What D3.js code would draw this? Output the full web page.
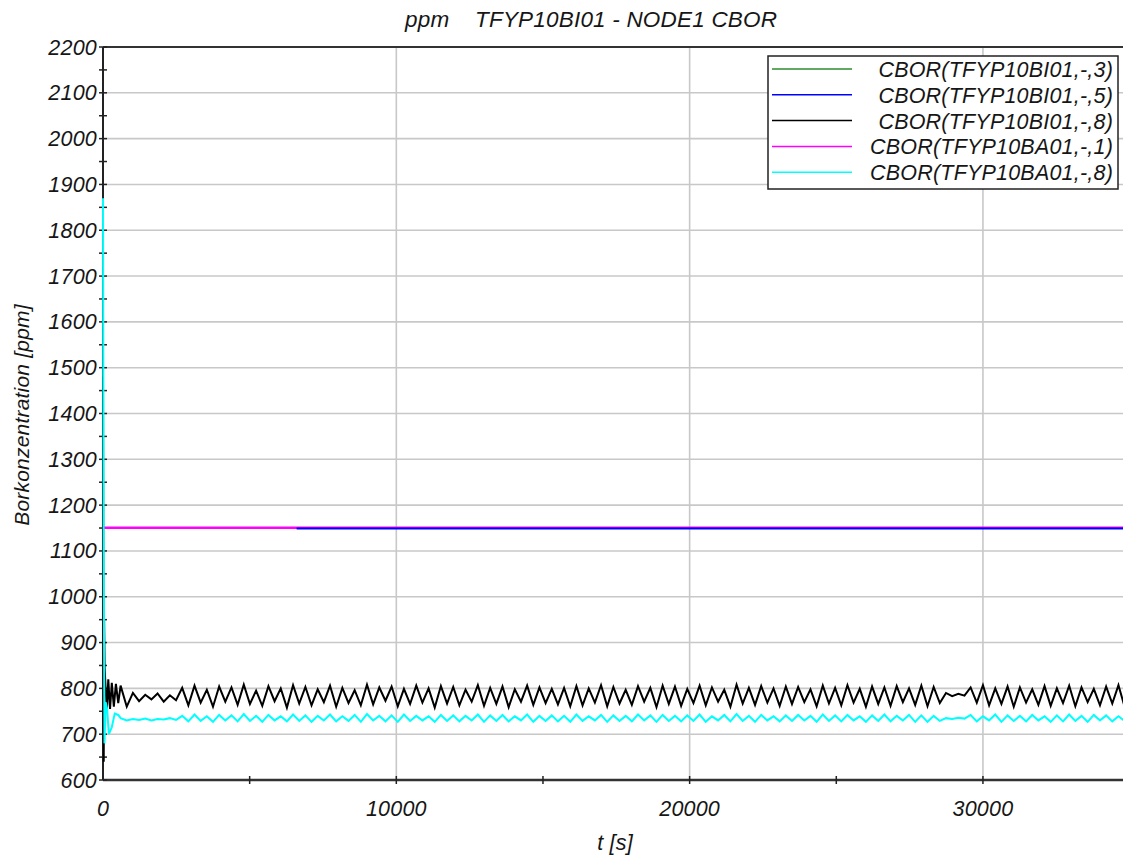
<!DOCTYPE html>
<html>
<head>
<meta charset="utf-8">
<script src="https://cdn.jsdelivr.net/npm/d3@7"></script>
<style>
  body { margin: 0; background: #fff; }
  svg { display: block; font-family: "Liberation Sans", Arial, sans-serif; }
  .lbl { font-style: italic; fill: #161616; letter-spacing: 0.2px; }
</style>
</head>
<body>
<svg id="chart" width="1123" height="856"></svg>
<script>
// ---- data ----
const seriesNames = ["CBOR(TFYP10BI01,-,3)", "CBOR(TFYP10BI01,-,5)", "CBOR(TFYP10BI01,-,8)", "CBOR(TFYP10BA01,-,1)", "CBOR(TFYP10BA01,-,8)"];
const seriesColors = ["#2e8b2e", "#0000ff", "#000000", "#ff00ff", "#00ffff"];
const yTicks = [600, 700, 800, 900, 1000, 1100, 1200, 1300, 1400, 1500, 1600, 1700, 1800, 1900, 2000, 2100, 2200];
const xTicks = [0, 10000, 20000, 30000];

// flat lines at ~1150 ppm  [t, value]
const greenPts = [[0, 1150], [6600, 1150]];
const bluePts = [[6600, 1149.2], [35000, 1149.2]];
const magentaPts = [[0, 1150.6], [35000, 1150.6]];

// start-up transient [t, value]
const blackStart = [[0, 1480], [12, 1000], [25, 640], [38, 950], [55, 845], [90, 800], [130, 750], [180, 820], [240, 755], [300, 812], [370, 760], [440, 810], [520, 768]];
const cyanStart = [[0, 1870], [25, 1060], [50, 680], [90, 770], [140, 755], [200, 700], [300, 715], [400, 745], [520, 742]];

// oscillation samples from t = 600 s every 210 s
const oscT0 = 600, oscDt = 210;
const blackOsc = [
  806, 760, 790, 772, 786, 776, 789, 771, 785, 774,
  801, 763, 806, 769, 797, 760, 804, 771, 802, 764, 808, 766, 795, 762, 805, 772, 800, 758, 807, 767,
  803, 763, 798, 770, 806, 760, 801, 768, 796, 763, 808, 765, 802, 773, 804, 761, 799, 766, 806, 769,
  800, 758, 805, 767, 803, 763, 797, 771, 807, 762, 801, 766, 804, 759, 798, 771, 806, 764, 802, 768,
  799, 765, 801, 761, 805, 763, 800, 769, 807, 761, 803, 767, 797, 764, 805, 771, 801, 759, 806, 766,
  804, 762, 799, 768, 806, 763, 802, 771, 797, 760, 808, 767, 801, 764, 805, 769, 800, 762, 804, 766,
  803, 770, 798, 761, 806, 767, 801, 763, 807, 769, 799, 760, 804, 766, 802, 762, 805, 770, 800, 764,
  806, 761, 803, 768, 790, 783, 788, 784, 802, 769, 807, 763, 800, 766, 804, 760, 802, 769, 798, 764,
  805, 762, 800, 768, 806, 761, 802, 770, 799, 763, 804, 767, 807, 760, 801, 766
];
const cyanOsc = [
  735, 730, 733, 731, 734, 730, 733, 732, 735, 731,
  740, 728, 743, 729, 739, 727, 742, 730, 741, 728, 744, 729, 740, 727, 742, 730, 739, 728, 743, 729,
  741, 727, 740, 730, 743, 728, 739, 729, 742, 727, 744, 730, 740, 728, 741, 727, 743, 729, 740, 730,
  739, 727, 742, 729, 741, 728, 740, 730, 743, 727, 741, 729, 742, 728, 739, 730, 743, 727, 740, 729,
  741, 728, 740, 727, 743, 729, 739, 730, 742, 727, 741, 729, 740, 728, 743, 730, 741, 727, 742, 729,
  740, 728, 741, 729, 743, 727, 739, 730, 742, 728, 744, 729, 740, 727, 742, 730, 739, 728, 741, 729,
  742, 730, 740, 727, 743, 729, 741, 728, 742, 730, 739, 727, 741, 729, 743, 728, 740, 730, 742, 727,
  741, 727, 740, 729, 735, 733, 736, 734, 742, 728, 739, 730, 743, 727, 741, 729, 740, 728, 742, 730,
  739, 727, 741, 728, 743, 729, 740, 727, 742, 730, 741, 728, 739, 729, 742, 727
];

// ---- chart ----
const svg = d3.select("#chart");
const x = d3.scaleLinear().domain([0, 35000]).range([103, 1129.6]);
const y = d3.scaleLinear().domain([600, 2200]).range([780, 47]);

const toPts = (start, osc) => start.concat(osc.map((v, i) => [oscT0 + i * oscDt, v]));
const blackPts = toPts(blackStart, blackOsc);
const cyanPts = toPts(cyanStart, cyanOsc);

// grid
svg.append("g").selectAll("line").data(yTicks.slice(1, -1)).enter().append("line")
  .attr("x1", x(0)).attr("x2", 1123).attr("y1", d => y(d)).attr("y2", d => y(d))
  .attr("stroke", "#c8c8c8").attr("stroke-width", 1.6);
svg.append("g").selectAll("line").data(xTicks.slice(1)).enter().append("line")
  .attr("x1", d => x(d)).attr("x2", d => x(d)).attr("y1", y(2200)).attr("y2", y(600))
  .attr("stroke", "#c8c8c8").attr("stroke-width", 1.6);

// frame lines
svg.append("line").attr("x1", x(0)).attr("x2", 1123).attr("y1", y(2200)).attr("y2", y(2200))
  .attr("stroke", "#333").attr("stroke-width", 2);
svg.append("line").attr("x1", x(0)).attr("x2", 1123).attr("y1", y(600)).attr("y2", y(600))
  .attr("stroke", "#333").attr("stroke-width", 2.5);
svg.append("line").attr("x1", x(0)).attr("x2", x(0)).attr("y1", y(2200)).attr("y2", y(600))
  .attr("stroke", "#222").attr("stroke-width", 2);

// ticks (major + minor) crossing the axes
const yMinor = d3.range(650, 2200, 100);
svg.append("g").selectAll("line").data(yTicks.concat(yMinor)).enter().append("line")
  .attr("x1", x(0) - 4).attr("x2", x(0) + 4).attr("y1", d => y(d)).attr("y2", d => y(d))
  .attr("stroke", "#222").attr("stroke-width", 1.5);
svg.append("g").selectAll("line").data([5000, 10000, 15000, 20000, 25000, 30000]).enter().append("line")
  .attr("x1", d => x(d)).attr("x2", d => x(d)).attr("y1", y(600) - 4).attr("y2", y(600) + 4)
  .attr("stroke", "#222").attr("stroke-width", 1.5);

// tick labels
svg.append("g").selectAll("text").data(yTicks).enter().append("text")
  .attr("class", "lbl").attr("x", 97).attr("y", d => y(d) + 7.5)
  .attr("text-anchor", "end").attr("font-size", 21.5).text(d => d);
svg.append("g").selectAll("text").data(xTicks).enter().append("text")
  .attr("class", "lbl").attr("x", d => x(d)).attr("y", 816)
  .attr("text-anchor", "middle").attr("font-size", 21.5).text(d => d);

// series
svg.append("clipPath").attr("id", "plot").append("rect")
  .attr("x", x(0) - 1).attr("y", y(2200)).attr("width", 1130).attr("height", y(600) - y(2200));
const line = d3.line().x(d => x(d[0])).y(d => y(d[1]));
const plot = svg.append("g").attr("clip-path", "url(#plot)");
[[greenPts, 0, 1.6], [magentaPts, 3, 2.6], [bluePts, 1, 2], [blackPts, 2, 2], [cyanPts, 4, 2]].forEach(s => {
  plot.append("path").datum(s[0]).attr("d", line)
    .attr("fill", "none").attr("stroke", seriesColors[s[1]]).attr("stroke-width", s[2])
    .attr("stroke-linejoin", "miter");
});

// titles
const title = svg.append("text").attr("class", "lbl").attr("y", 27).attr("font-size", 22.5);
title.append("tspan").attr("x", 405).text("ppm");
title.append("tspan").attr("x", 475).text("TFYP10BI01 - NODE1 CBOR");
svg.append("text").attr("class", "lbl").attr("x", 615).attr("y", 850)
  .attr("text-anchor", "middle").attr("font-size", 21.5).text("t [s]");
svg.append("text").attr("class", "lbl").attr("font-size", 21)
  .attr("transform", "translate(29,415) rotate(-90)").attr("text-anchor", "middle")
  .text("Borkonzentration [ppm]");

// legend
const lg = svg.append("g");
lg.append("rect").attr("x", 768).attr("y", 56).attr("width", 350).attr("height", 133)
  .attr("fill", "#fff").attr("stroke", "#222").attr("stroke-width", 1.5);
seriesNames.forEach((n, i) => {
  const ly = 69 + i * 25.8;
  lg.append("line").attr("x1", 772).attr("x2", 852).attr("y1", ly).attr("y2", ly)
    .attr("stroke", seriesColors[i]).attr("stroke-width", 1.5);
  lg.append("text").attr("class", "lbl").attr("x", 1113).attr("y", ly + 8)
    .attr("text-anchor", "end").attr("font-size", 21.5).text(n);
});
</script>
</body>
</html>
